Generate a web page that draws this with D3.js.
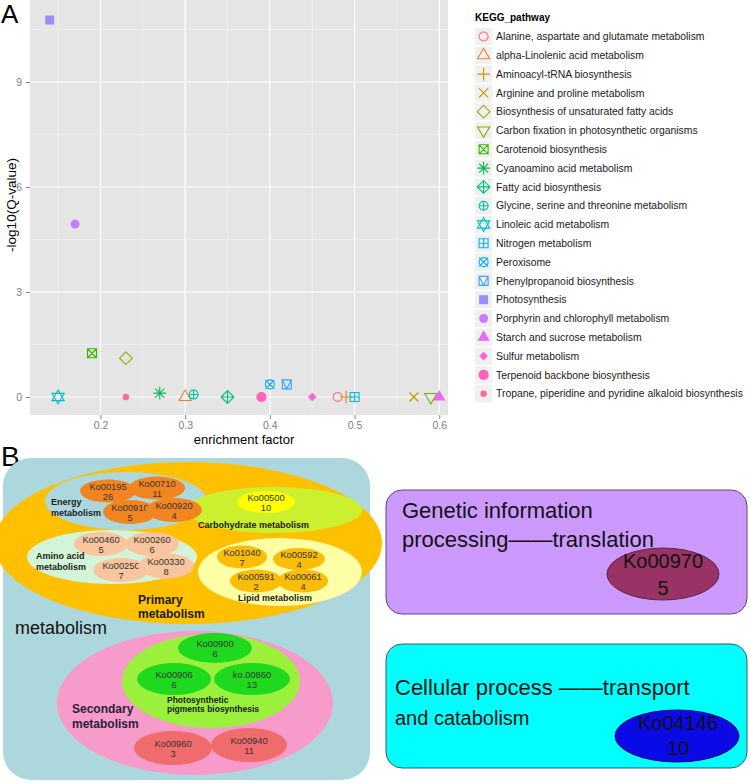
<!DOCTYPE html>
<html><head><meta charset="utf-8">
<script src="https://cdn.jsdelivr.net/npm/d3@7"></script>
<style>body{margin:0;background:#fff}svg{display:block;font-family:"Liberation Sans",Arial,sans-serif}</style>
</head><body><svg id="c" width="750" height="783"></svg>
<script>
// ---------------- Panel A data ----------------
const pathways = [
  "Alanine, aspartate and glutamate metabolism",
  "alpha-Linolenic acid metabolism",
  "Aminoacyl-tRNA biosynthesis",
  "Arginine and proline metabolism",
  "Biosynthesis of unsaturated fatty acids",
  "Carbon fixation in photosynthetic organisms",
  "Carotenoid biosynthesis",
  "Cyanoamino acid metabolism",
  "Fatty acid biosynthesis",
  "Glycine, serine and threonine metabolism",
  "Linoleic acid metabolism",
  "Nitrogen metabolism",
  "Peroxisome",
  "Phenylpropanoid biosynthesis",
  "Photosynthesis",
  "Porphyrin and chlorophyll metabolism",
  "Starch and sucrose metabolism",
  "Sulfur metabolism",
  "Terpenoid backbone biosynthesis",
  "Tropane, piperidine and pyridine alkaloid biosynthesis"
];
const enrichmentFactor = [0.48, 0.30, 0.49, 0.57, 0.23, 0.59, 0.19, 0.27, 0.35, 0.31,
                          0.15, 0.50, 0.40, 0.42, 0.14, 0.17, 0.60, 0.45, 0.39, 0.23];
const negLog10Q = [0, 0, 0, 0, 1.11, 0, 1.25, 0.11, 0, 0.07,
                   0, 0, 0.36, 0.36, 10.77, 4.94, 0, 0, 0, 0];
const xTickValues = [0.2, 0.3, 0.4, 0.5, 0.6];
const yTickValues = [0, 3, 6, 9];
const legendTitle = "KEGG_pathway";
const xTitle = "enrichment factor";
const yTitle = "-log10(Q-value)";

// ---------------- Panel B data ----------------
const koIds = ["Ko00195","Ko00710","Ko00910","Ko00920","Ko00500",
               "Ko00460","Ko00260","Ko00250","Ko00330",
               "Ko01040","Ko00592","Ko00591","Ko00061",
               "Ko00900","Ko00906","ko.00860","Ko00960","Ko00940",
               "Ko00970","Ko04146"];
const koCounts = [26, 11, 5, 4, 10, 5, 6, 7, 8, 7, 4, 2, 4, 6, 6, 13, 3, 11, 5, 10];
const koGroups = ["energy","energy","energy","energy","carb",
                  "amino","amino","amino","amino",
                  "lipid","lipid","lipid","lipid",
                  "photo","photo","photo","second","second",
                  "genetic","cellular"];

// ---------------- styles ----------------
const hue = ["#F8766D","#EA8331","#D89000","#C09B00","#A3A500","#7CAE00","#39B600","#00BB4E","#00BF7D","#00C1A3",
             "#00BFC4","#00BAE0","#00B0F6","#35A2FF","#9590FF","#C77CFF","#E76BF3","#FA62DB","#FF62BC","#FF6C91"];

const svg = d3.select("#c");
svg.append("rect").attr("width",750).attr("height",783).attr("fill","#fff");

// ================= Panel A =================
const x = d3.scaleLinear().domain([0.1168, 0.6103]).range([30, 448]);
const y = d3.scaleLinear().domain([-0.514, 11.343]).range([415, 0]);

const pa = svg.append("g");
pa.append("rect").attr("x",30).attr("y",0).attr("width",418).attr("height",415).attr("fill","#e5e5e5");

const xMinor = xTickValues.map(v => v - 0.05).concat([0.65]).filter(v => v > x.domain()[0] && v < x.domain()[1]);
const yMinor = yTickValues.map(v => v + 1.5).filter(v => v < y.domain()[1]);
pa.selectAll(".gxm").data(xMinor).join("line").attr("x1",d=>x(d)).attr("x2",d=>x(d)).attr("y1",0).attr("y2",415)
  .attr("stroke","#f2f2f2").attr("stroke-width",0.6);
pa.selectAll(".gym").data(yMinor).join("line").attr("y1",d=>y(d)).attr("y2",d=>y(d)).attr("x1",30).attr("x2",448)
  .attr("stroke","#f2f2f2").attr("stroke-width",0.6);
pa.selectAll(".gx").data(xTickValues).join("line").attr("x1",d=>x(d)).attr("x2",d=>x(d)).attr("y1",0).attr("y2",415)
  .attr("stroke","#fff").attr("stroke-width",1.2);
pa.selectAll(".gy").data(yTickValues).join("line").attr("y1",d=>y(d)).attr("y2",d=>y(d)).attr("x1",30).attr("x2",448)
  .attr("stroke","#fff").attr("stroke-width",1.2);

const xAxis = pa.append("g").attr("transform","translate(0,415)")
  .call(d3.axisBottom(x).tickValues(xTickValues).tickFormat(d3.format(".1f")).tickSize(4).tickPadding(3));
const yAxis = pa.append("g").attr("transform","translate(30,0)")
  .call(d3.axisLeft(y).tickValues(yTickValues).tickFormat(d3.format("d")).tickSize(4).tickPadding(4));
[xAxis, yAxis].forEach(a => {
  a.select(".domain").remove();
  a.selectAll(".tick line").attr("stroke","#7f7f7f");
  a.selectAll(".tick text").attr("fill","#7f7f7f").style("font-size","10.5px").style("font-family","Liberation Sans, Arial, sans-serif");
});

pa.append("text").attr("x",244).attr("y",444).attr("text-anchor","middle").style("font-size","13px").attr("fill","#000").text(xTitle);
pa.append("text").attr("transform","translate(16,205) rotate(-90)").attr("text-anchor","middle").style("font-size","13.5px").attr("fill","#000").text(yTitle);

function drawSymbol(g, code, col) {
  const r = 4.5, s2 = Math.SQRT2 * r;
  const T0 = 1.5551, T1 = 1.3468, T2 = 0.7776;
  const sw = 1.1;
  const open = d => g.append("path").attr("d", d).attr("fill","none").attr("stroke",col).attr("stroke-width",sw);
  const filled = d => g.append("path").attr("d", d).attr("fill",col).attr("stroke","none");
  const circ = rr => `M${-rr},0A${rr},${rr} 0 1,0 ${rr},0A${rr},${rr} 0 1,0 ${-rr},0Z`;
  const sq = h => `M${-h},${-h}H${h}V${h}H${-h}Z`;
  const plus = h => `M${-h},0H${h}M0,${-h}V${h}`;
  const cross = h => `M${-h},${-h}L${h},${h}M${-h},${h}L${h},${-h}`;
  const dia = h => `M0,${-h}L${h},0L0,${h}L${-h},0Z`;
  const triUp = `M0,${-r*T0}L${r*T1},${r*T2}L${-r*T1},${r*T2}Z`;
  const triDn = `M0,${r*T0}L${r*T1},${-r*T2}L${-r*T1},${-r*T2}Z`;
  switch (code) {
    case 1: open(circ(r)); break;
    case 2: open(triUp); break;
    case 3: open(plus(s2)); break;
    case 4: open(cross(r)); break;
    case 5: open(dia(s2)); break;
    case 6: open(triDn); break;
    case 7: open(sq(r) + cross(r)); break;
    case 8: open(plus(s2) + cross(r)); break;
    case 9: open(dia(s2) + plus(s2)); break;
    case 10: open(circ(r) + plus(r)); break;
    case 11: {
      const a = 7, yc = 3.6, xc = 6.1;
      open(`M0,${-a}L${xc},${yc}L${-xc},${yc}Z M0,${a}L${xc},${-yc}L${-xc},${-yc}Z`); break;
    }
    case 12: open(sq(r) + plus(r)); break;
    case 13: open(circ(r) + cross(r)); break;
    case 14: open(sq(r) + `M${-r},${-r}L0,${r}L${r},${-r}`); break;
    case 15: filled(sq(r)); break;
    case 16: filled(circ(r)); break;
    case 17: filled(triUp); break;
    case 18: filled(dia(r * 0.95)); break;
    case 19: filled(circ(r + 0.6)); break;
    case 20: filled(circ(r * 0.72)); break;
  }
}

const pts = pa.append("g");
pathways.forEach((p, i) => {
  const g = pts.append("g").attr("transform", `translate(${x(enrichmentFactor[i])},${y(negLog10Q[i])})`);
  drawSymbol(g, i + 1, hue[i]);
});

// legend
const lg = svg.append("g");
lg.append("text").attr("x",475).attr("y",21).style("font-size","10px").style("font-weight","bold").attr("fill","#000").text(legendTitle);
const legStep = 18.8, legY0 = 36.5;
pathways.forEach((p, i) => {
  const cy = legY0 + i * legStep;
  lg.append("rect").attr("x",475).attr("y",cy - 8.6).attr("width",17.2).attr("height",17.2).attr("fill","#f0f0f0");
  drawSymbol(lg.append("g").attr("transform",`translate(483.6,${cy})`), i + 1, hue[i]);
  lg.append("text").attr("x",496).attr("y",cy + 3.6).style("font-size","10.4px").attr("fill","#1a1a1a").text(p);
});

svg.append("text").attr("x",1).attr("y",23).style("font-size","26px").attr("fill","#000").text("A");
svg.append("text").attr("x",1).attr("y",466).style("font-size","28px").attr("fill","#000").text("B");

// ================= Panel B =================
const pb = svg.append("g");
pb.append("rect").attr("x",3).attr("y",458).attr("width",367).attr("height",322).attr("rx",28).attr("fill","#acd8dd");
// container ellipses (layout)
const containers = [
  {cx:188, cy:543, rx:194, ry:81, fill:"#ffc000"},   // primary
  {cx:126, cy:501, rx:81, ry:29, fill:"#acd8dd"},    // energy
  {cx:274, cy:510, rx:88, ry:23, fill:"#ccf02e"},    // carbohydrate
  {cx:112, cy:557, rx:85, ry:27, fill:"#d2f5d8"},    // amino acid
  {cx:280, cy:572, rx:82, ry:34, fill:"#ffffa6"},    // lipid
  {cx:195, cy:703, rx:138, ry:72, fill:"#f79bca"},   // secondary
  {cx:211, cy:681, rx:89, ry:47, fill:"#9bf03c"}     // photosynthetic
];
pb.selectAll(".cont").data(containers).join("ellipse")
  .attr("cx",d=>d.cx).attr("cy",d=>d.cy).attr("rx",d=>d.rx).attr("ry",d=>d.ry).attr("fill",d=>d.fill);

const groupFill = {energy:"#f2851f", carb:"#ffff00", amino:"#f8c59e", lipid:"#fbbd08", photo:"#1ed91e", second:"#f06b6b"};
const koLayout = [
  [108,491,28,11.5],[157,488,28,11.5],[130,512,27,12],[174,510,28,12],[266,502,29,11],
  [101,544,27,12],[152,544,27,12],[121,570,28,12],[166,566,28,12.5],
  [242,557,25,11.5],[299,559,26,11],[256,581,26,11.5],[303,581,25,11.5],
  [215,648,37,15],[174,679,37,16],[252,679,38,16],[173,748,39,17],[249,745,38,17]
];
koLayout.forEach((L, i) => {
  const g = koGroups[i];
  pb.append("ellipse").attr("cx",L[0]).attr("cy",L[1]).attr("rx",L[2]).attr("ry",L[3]).attr("fill",groupFill[g]);
  pb.append("text").attr("x",L[0]).attr("y",L[1] - 1.5).attr("text-anchor","middle").style("font-size","9.3px").attr("fill","#333").text(koIds[i]);
  pb.append("text").attr("x",L[0]).attr("y",L[1] + 8.5).attr("text-anchor","middle").style("font-size","9.3px").attr("fill","#333").text(koCounts[i]);
});

function label(xp, yp, lines, size, weight, lh, fill, anchor) {
  const t = pb.append("text").attr("x",xp).attr("y",yp).style("font-size",size+"px").style("font-weight",weight)
    .attr("fill",fill || "#1a1a1a").attr("text-anchor",anchor || "start");
  lines.forEach((l, k) => t.append("tspan").attr("x",xp).attr("dy",k ? lh : 0).text(l));
}
label(51, 505, ["Energy","metabolism"], 9, "bold", 11);
label(198, 528, ["Carbohydrate metabolism"], 9, "bold", 11);
label(36, 559, ["Amino acid","metabolism"], 9, "bold", 11);
label(238, 601, ["Lipid metabolism"], 9, "bold", 11);
label(138, 604, ["Primary","metabolism"], 12, "bold", 14);
label(15, 634, ["metabolism"], 18, "normal", 18, "#111");
label(167, 703, ["Photosynthetic","pigments biosynthesis"], 8.5, "bold", 8.5);
label(72, 713, ["Secondary","metabolism"], 12, "bold", 14.5, "#2a1f3d");

// right boxes
pb.append("rect").attr("x",386).attr("y",490).attr("width",361).attr("height",124).attr("rx",16)
  .attr("fill","#cc99ff").attr("stroke","#5e4a6e").attr("stroke-width",1);
pb.append("text").attr("x",402).attr("y",518).style("font-size","22px").attr("fill","#111").text("Genetic information");
pb.append("text").attr("x",402).attr("y",547).style("font-size","22px").attr("fill","#111").text("processing\u2014\u2014translation");
pb.append("ellipse").attr("cx",663).attr("cy",574).attr("rx",56).attr("ry",26).attr("fill","#993366").attr("stroke","#5a2a40").attr("stroke-width",1);
pb.append("text").attr("x",663).attr("y",568).attr("text-anchor","middle").style("font-size","20px").attr("fill","#111").text(koIds[18]);
pb.append("text").attr("x",663).attr("y",595).attr("text-anchor","middle").style("font-size","20px").attr("fill","#111").text(koCounts[18]);

pb.append("rect").attr("x",386).attr("y",644).attr("width",361).attr("height",124).attr("rx",16)
  .attr("fill","#00ffff").attr("stroke","#3a5a60").attr("stroke-width",1);
pb.append("text").attr("x",395).attr("y",695).style("font-size","22px").attr("fill","#111").text("Cellular process \u2014\u2014transport");
pb.append("text").attr("x",395).attr("y",725).style("font-size","20px").attr("fill","#111").text("and catabolism");
pb.append("ellipse").attr("cx",677).attr("cy",736).attr("rx",62).attr("ry",26).attr("fill","#0a0ae6").attr("stroke","#00006a").attr("stroke-width",1);
pb.append("text").attr("x",678).attr("y",730).attr("text-anchor","middle").style("font-size","20px").attr("fill","#111").text(koIds[19]);
pb.append("text").attr("x",678).attr("y",755).attr("text-anchor","middle").style("font-size","20px").attr("fill","#111").text(koCounts[19]);
</script></body></html>
